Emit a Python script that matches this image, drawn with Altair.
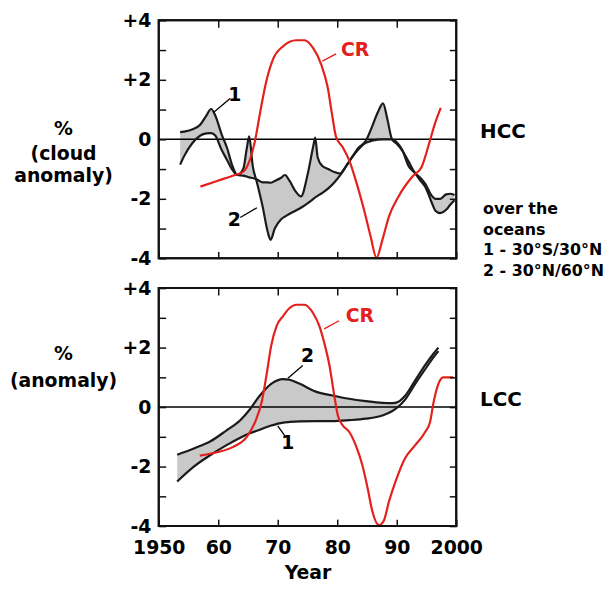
import altair as alt
import pandas as pd

# ---------------- data ----------------
# Upper panel: high-level cloud (HCC)
hcc_years = [1953.6, 1954.2, 1955.6, 1957.0, 1958.0, 1958.8, 1959.5, 1960.6, 1961.5, 1962.3,
             1963.2, 1964.2, 1964.8, 1965.2, 1965.8, 1966.5, 1967.5, 1968.3, 1968.8, 1969.5,
             1970.5, 1971.2, 1972.0, 1973.0, 1973.9, 1975.0, 1976.0, 1976.3, 1976.7, 1977.5,
             1978.5, 1979.5, 1980.5, 1981.5, 1982.5, 1983.5, 1984.8, 1985.8, 1986.8, 1987.7,
             1988.4, 1989.2, 1990.0, 1990.9, 1992.0, 1993.1, 1994.0, 1994.8, 1995.9, 1996.5,
             1997.3, 1998.3, 1999.0, 1999.7]
hcc_1 = [0.24, 0.26, 0.33, 0.5, 0.8, 1.02, 0.8, 0.15, -0.3, -0.85,
         -1.2, -1.22, -1.25, -1.28, -1.3, -1.35, -1.45, -1.45, -1.46, -1.4,
         -1.3, -1.2, -1.4, -1.75, -1.92, -1.2, -0.2, 0.06, -0.6, -0.9,
         -1.0, -1.1, -1.15, -0.9, -0.6, -0.3, -0.05, 0.4, 0.9, 1.21,
         0.7, 0.0, -0.15, -0.37, -0.75, -1.14, -1.3, -1.5, -1.9, -2.0,
         -2.0, -1.85, -1.83, -1.87]
hcc_2 = [-0.85, -0.59, -0.14, 0.13, 0.2, 0.21, 0.13, -0.37, -0.7, -1.0,
         -1.2, -1.0, -0.3, 0.1, -0.9, -1.45, -2.3, -3.1, -3.38, -3.0,
         -2.7, -2.6, -2.5, -2.4, -2.3, -2.15, -2.0, -1.95, -1.9, -1.8,
         -1.65, -1.45, -1.2, -0.9, -0.6, -0.35, -0.12, -0.05, -0.01, 0.0,
         0.0, 0.0, -0.1, -0.35, -0.9, -1.14, -1.4, -1.6, -2.14, -2.4,
         -2.48, -2.37, -2.2, -2.05]
hcc_cr_years = [1957.0, 1959.8, 1962.8, 1964.2, 1965.3, 1966.2, 1967.0, 1968.1, 1969.2, 1970.9,
                1973.1, 1974.5, 1975.9, 1977.3, 1978.4, 1979.2, 1979.8, 1980.9, 1982.0, 1983.1,
                1984.5, 1985.6, 1986.6, 1987.6, 1988.7, 1990.3, 1992.6, 1994.2, 1995.6, 1996.4,
                1997.4]
hcc_cr = [-1.59, -1.4, -1.2, -1.09, -0.7, -0.03, 0.86, 1.97, 2.69, 3.13,
          3.33, 3.33, 3.08, 2.52, 1.74, 0.74, 0.08, -0.26, -0.7, -1.37,
          -2.37, -3.26, -3.98, -3.37, -2.59, -1.92, -1.26, -0.92, -0.03, 0.52,
          1.06]

# Lower panel: low-level cloud (LCC)
lcc_years = [1953.1, 1955.9, 1958.7, 1961.4, 1963.7, 1965.3, 1967.0, 1968.9, 1970.9, 1972.0,
             1973.7, 1976.4, 1979.2, 1982.0, 1984.8, 1987.6, 1989.2, 1990.3, 1991.4, 1993.1,
             1994.8, 1996.2, 1997.0]
lcc_1 = [-2.5, -2.0, -1.61, -1.28, -1.03, -0.88, -0.76, -0.62, -0.52, -0.5,
         -0.48, -0.47, -0.47, -0.44, -0.39, -0.28, -0.14, 0.02, 0.25, 0.78,
         1.28, 1.68, 1.88]
lcc_2 = [-1.6, -1.39, -1.15, -0.78, -0.44, -0.08, 0.39, 0.78, 0.94, 0.92,
         0.78, 0.52, 0.39, 0.28, 0.2, 0.14, 0.13, 0.18, 0.38, 0.9,
         1.42, 1.8, 2.0]
lcc_cr_years = [1956.9, 1959.8, 1962.6, 1964.8, 1966.2, 1967.3, 1968.1, 1968.9, 1969.8, 1970.9,
                1972.0, 1973.1, 1974.5, 1975.9, 1977.0, 1977.8, 1978.7, 1979.5, 1980.1, 1980.9,
                1982.0, 1983.1, 1984.2, 1985.1, 1985.9, 1987.0, 1987.8, 1988.7, 1989.8, 1991.4,
                1993.1, 1994.8, 1995.6, 1996.2, 1997.0, 1997.8, 1999.5]
lcc_cr = [-1.63, -1.52, -1.33, -1.0, -0.5, 0.17, 1.06, 2.06, 2.72, 3.06,
          3.33, 3.44, 3.44, 3.17, 2.72, 2.17, 1.39, 0.39, -0.28, -0.61,
          -0.83, -1.28, -1.94, -2.72, -3.5, -3.97, -3.83, -3.17, -2.5, -1.72,
          -1.28, -0.83, -0.5, 0.17, 0.78, 1.0, 1.0]

x_ticks = [1950, 1960, 1970, 1980, 1990, 2000]
y_ticks = [-4, -3, -2, -1, 0, 1, 2, 3, 4]

# ---------------- styling ----------------
FONT = "DejaVu Sans"
W, H = 300, 240
RED = "#e3201b"
GREY = "#c9c9c9"
INK = "#111111"
TICK = 7

xscale = alt.Scale(domain=[1950, 2000], nice=False, zero=False)
yscale = alt.Scale(domain=[-4, 4], nice=False, zero=False)

X_LABEL_EXPR = ("datum.value == 1950 || datum.value == 2000 ? toString(datum.value) "
                ": substring(toString(datum.value), 2)")
Y_LABEL_EXPR = ("datum.value % 2 != 0 ? '' : (datum.value > 0 ? '+' + toString(datum.value) "
                ": toString(datum.value))")


def x_axis_bottom(labels, title):
    kw = dict(orient="bottom", values=x_ticks, offset=-TICK, tickSize=TICK, tickColor=INK,
              tickWidth=1.5, domain=False, grid=False, labels=labels, zindex=1)
    if labels:
        kw.update(labelExpr=X_LABEL_EXPR, labelFont=FONT, labelFontWeight="bold",
                  labelFontSize=19, labelColor="black", labelPadding=13, labelFlush=False)
    if title:
        kw.update(title=title, titleFont=FONT, titleFontWeight="bold", titleFontSize=19,
                  titleColor="black", titlePadding=6)
    else:
        kw.update(title=None)
    return alt.Axis(**kw)


def y_axis_left():
    return alt.Axis(orient="left", values=y_ticks, offset=-TICK, tickSize=TICK, tickColor=INK,
                    tickWidth=1.5, domain=False, grid=False, labelExpr=Y_LABEL_EXPR,
                    labelFont=FONT, labelFontWeight="bold", labelFontSize=19,
                    labelColor="black", labelPadding=8, title=None, zindex=1)


def mirror_axis(orient, values):
    return alt.Axis(orient=orient, values=values, offset=-TICK, tickSize=TICK, tickColor=INK,
                    tickWidth=1.5, domain=False, grid=False, labels=False, title=None, zindex=1)


def ptext(s, x, y, size, align="left", color="black"):
    return alt.Chart(pd.DataFrame({"t": [s]})).mark_text(
        align=align, baseline="alphabetic", font=FONT, fontWeight="bold",
        fontSize=size, color=color
    ).encode(x=alt.value(x), y=alt.value(y), text="t:N")


def dtext(s, x, y, size=19, color="black"):
    return alt.Chart(pd.DataFrame({"t": [s], "x": [x], "y": [y]})).mark_text(
        align="center", baseline="middle", font=FONT, fontWeight="bold",
        fontSize=size, color=color
    ).encode(x=alt.X("x:Q", scale=xscale, axis=None),
             y=alt.Y("y:Q", scale=yscale, axis=None), text="t:N")


def leader(x1, y1, x2, y2, color="black"):
    return alt.Chart(pd.DataFrame({"x": [x1], "y": [y1], "x2": [x2], "y2": [y2]})).mark_rule(
        color=color, strokeWidth=1.3
    ).encode(x=alt.X("x:Q", scale=xscale, axis=None), y=alt.Y("y:Q", scale=yscale, axis=None),
             x2="x2:Q", y2="y2:Q")


def frame():
    return alt.Chart(pd.DataFrame({"f": [0]})).mark_rect(
        fillOpacity=0, stroke=INK, strokeWidth=2
    ).encode(x=alt.value(0), x2=alt.value(W), y=alt.value(0), y2=alt.value(H))


def panel(years, c1, c2, cr_years, cr, bottom_labels, area_max, extra):
    df = pd.DataFrame({"year": years, "c1": c1, "c2": c2})
    df_area = df[df["year"] <= area_max]
    df_cr = pd.DataFrame({"year": cr_years, "cr": cr})

    area = alt.Chart(df_area).mark_area(color=GREY, interpolate="monotone").encode(
        x=alt.X("year:Q", scale=xscale,
                axis=x_axis_bottom(bottom_labels, "Year" if bottom_labels else None)),
        y=alt.Y("c1:Q", scale=yscale, axis=y_axis_left()),
        y2="c2:Q",
    )
    zero = alt.Chart(pd.DataFrame({"z": [0]})).mark_rule(color="black", strokeWidth=1.5).encode(
        y=alt.Y("z:Q", scale=yscale, axis=None)
    )
    l1 = alt.Chart(df).mark_line(color="#1a1a1a", strokeWidth=2.2, interpolate="monotone").encode(
        x=alt.X("year:Q", scale=xscale, axis=None),
        y=alt.Y("c1:Q", scale=yscale, axis=None),
    )
    l2 = alt.Chart(df).mark_line(color="#1a1a1a", strokeWidth=2.2, interpolate="monotone").encode(
        x=alt.X("year:Q", scale=xscale, axis=None),
        y=alt.Y("c2:Q", scale=yscale, axis=None),
    )
    red = alt.Chart(df_cr).mark_line(color=RED, strokeWidth=2.2, interpolate="monotone").encode(
        x=alt.X("year:Q", scale=xscale, axis=mirror_axis("top", [1960, 1970, 1980, 1990])),
        y=alt.Y("cr:Q", scale=yscale, axis=mirror_axis("right", y_ticks)),
    )
    return alt.layer(area, zero, l1, l2, red, *extra, frame()).resolve_axis(
        x="independent", y="independent"
    ).properties(width=W, height=H)


top_extra = [
    leader(1959.2, 0.9, 1962.0, 1.37), dtext("1", 1962.8, 1.5),
    leader(1963.7, -2.63, 1966.5, -2.3), dtext("2", 1962.7, -2.72),
    leader(1977.5, 2.63, 1979.8, 2.87, RED), dtext("CR", 1983.0, 3.0, 19, RED),
    ptext("%", -96, 116, 19, "center"),
    ptext("(cloud", -96, 141, 19, "center"),
    ptext("anomaly)", -96, 163, 19, "center"),
    ptext("HCC", 324, 119, 20),
    ptext("over the", 327, 195, 16),
    ptext("oceans", 327, 216, 16),
    ptext("1 - 30°S/30°N", 327, 237, 16),
    ptext("2 - 30°N/60°N", 327, 258, 16),
]
bottom_extra = [
    leader(1977.8, 2.63, 1980.3, 2.9, RED), dtext("CR", 1983.8, 3.07, 19, RED),
    leader(1971.7, 0.97, 1974.2, 1.4), dtext("2", 1975.0, 1.73),
    leader(1970.0, -0.63, 1971.2, -0.97), dtext("1", 1971.7, -1.22),
    ptext("%", -96, 73, 19, "center"),
    ptext("(anomaly)", -96, 100, 19, "center"),
    ptext("LCC", 324, 119, 20),
]

top = panel(hcc_years, hcc_1, hcc_2, hcc_cr_years, hcc_cr, False, 2001, top_extra)
bottom = panel(lcc_years, lcc_1, lcc_2, lcc_cr_years, lcc_cr, True, 1990.3, bottom_extra)

chart = alt.vconcat(top, bottom, spacing=30, bounds="flush").properties(
    padding={"left": 0, "top": 0, "right": 0, "bottom": 0},
    background="white",
).configure_view(stroke=INK, strokeWidth=2)

chart.save("out.html", embed_options={"renderer": "svg", "actions": False})
